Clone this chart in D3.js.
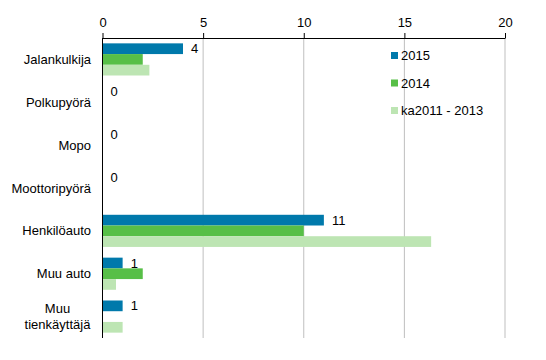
<!DOCTYPE html>
<html><head><meta charset="utf-8">
<script src="https://cdn.jsdelivr.net/npm/d3@7"></script>
<style>body{margin:0;background:#fff;}svg{display:block;font-family:"Liberation Sans",Arial,sans-serif;}</style>
</head><body>
<script>
const categories = ["Jalankulkija","Polkupyörä","Mopo","Moottoripyörä","Henkilöauto","Muu auto","Muu tienkäyttäjä"];
const seriesNames = ["2015","2014","ka2011 - 2013"];
const v2015 = [4,0,0,0,11,1,1];
const v2014 = [2,0,0,0,10,2,0];
const vKa   = [2.33,0,0,0,16.33,0.67,1];
const ticks = [0,5,10,15,20];
const colors = ["#0079ab","#57bf47","#bde5b3"];

(function(){
const W=546,H=360, mL=102.5, mR=505, mT=38, mB=338;
const svg=d3.select("body").append("svg").attr("width",W).attr("height",H);
const x=d3.scaleLinear().domain([0,20]).range([mL,mR]);
const y=d3.scaleBand().domain(categories).range([mT,mB]).paddingInner(0.25).paddingOuter(0.125);
const ys=d3.scaleBand().domain(seriesNames).range([0,y.bandwidth()]);

// gridlines
svg.append("g").selectAll("line").data(ticks.filter(t=>t>0)).join("line")
 .attr("x1",d=>x(d)).attr("x2",d=>x(d)).attr("y1",mT).attr("y2",mB)
 .attr("stroke","#bfbfbf").attr("stroke-width",1);

const series=[v2015,v2014,vKa];
series.forEach((vals,si)=>{
  svg.append("g").selectAll("rect").data(vals).join("rect")
   .attr("x",x(0)).attr("y",(d,i)=>y(categories[i])+ys(seriesNames[si]))
   .attr("width",d=>x(d)-x(0)).attr("height",ys.bandwidth())
   .attr("fill",colors[si]);
});

// value labels for 2015
svg.append("g").selectAll("text").data(v2015).join("text")
 .attr("x",d=>x(d)+8).attr("y",(d,i)=>y(categories[i])+ys("2015")+ys.bandwidth()/2)
 .attr("dy","0.35em").attr("font-size",13).attr("fill","#000").text(d=>d);

// top axis
const ax=svg.append("g").attr("transform",`translate(0,${mT})`)
 .call(d3.axisTop(x).tickValues(ticks).tickSize(5).tickSizeOuter(0).tickPadding(6));
ax.select(".domain").attr("stroke","#000");
ax.selectAll(".tick line").attr("stroke","#000");
ax.selectAll("text").attr("font-size",13).attr("font-family","Liberation Sans, Arial, sans-serif").attr("fill","#000");

// left axis line
svg.append("line").attr("x1",mL).attr("x2",mL).attr("y1",mT).attr("y2",mB).attr("stroke","#000");

// category labels
const cl=svg.append("g").selectAll("text").data(categories).join("text")
 .attr("x",91).attr("y",d=>y(d)+y.bandwidth()/2).attr("text-anchor","end")
 .attr("font-size",13).attr("fill","#000");
cl.each(function(d){
  const t=d3.select(this);
  const parts = d==="Muu tienkäyttäjä" ? ["Muu","tienkäyttäjä"] : [d];
  const lh=16;
  parts.forEach((p,k)=>{
    const multi=parts.length>1;
    t.append("tspan").attr("x",multi?57.5:91)
     .attr("text-anchor",multi?"middle":"end")
     .attr("y",y(d)+y.bandwidth()/2+(k-(parts.length-1)/2)*lh).attr("dy","0.35em").text(p);
  });
});

// legend
const lg=svg.append("g").attr("transform","translate(391,52)");
seriesNames.forEach((s,i)=>{
  lg.append("rect").attr("x",0).attr("y",i*27.5).attr("width",7).attr("height",7).attr("fill",colors[i]);
  lg.append("text").attr("x",10).attr("y",i*27.5+3.5).attr("dy","0.35em").attr("font-size",13).attr("fill","#000").text(s);
});
})();
</script>
</body></html>
